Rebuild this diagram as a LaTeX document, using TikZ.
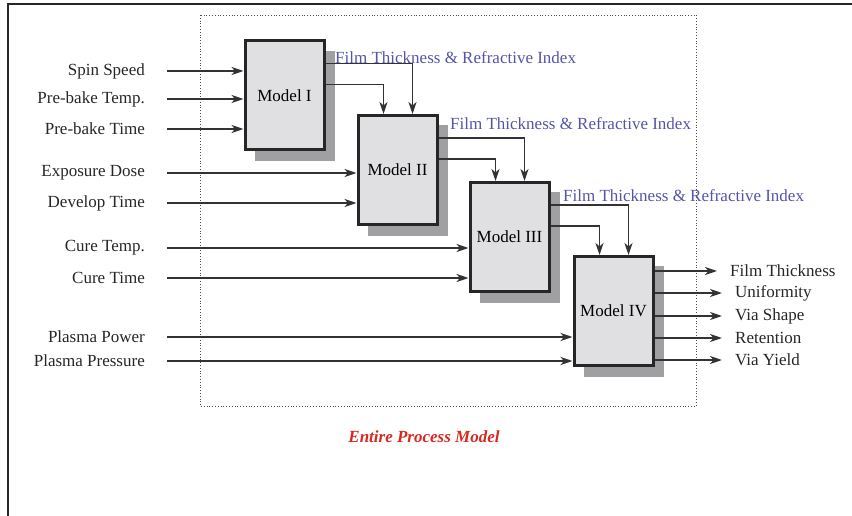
\documentclass[tikz,border=0pt]{standalone}
\usepackage{fontspec}
\setmainfont{Liberation Serif}
\usetikzlibrary{arrows.meta}
\definecolor{boxfill}{RGB}{224,224,226}
\definecolor{shadowgray}{RGB}{160,160,162}
\definecolor{ftblue}{RGB}{84,84,168}
\definecolor{modelred}{RGB}{214,42,32}
\tikzset{
  model/.style={draw=black!85, line width=3pt, fill=boxfill, minimum width=79pt,
    minimum height=109pt, inner sep=0pt, font=\fontsize{17}{20}\selectfont},
  shadowbox/.style={fill=shadowgray},
  inlabel/.style={anchor=east, inner sep=0pt, font=\fontsize{17}{20}\selectfont, text=black!85},
  outlabel/.style={anchor=west, inner sep=0pt, font=\fontsize{17}{20}\selectfont, text=black!85},
  ftlabel/.style={anchor=west, inner sep=0pt, font=\fontsize{17}{20}\selectfont, text=ftblue},
  arr/.style={line width=1.8pt, draw=black!80, -{Stealth[length=12pt,width=8pt,inset=3.5pt]}}
}
\begin{document}
\begin{tikzpicture}[x=1pt, y=-1pt]
\useasboundingbox (0,0) rectangle (852,516);

% Cadre
\draw[line width=2pt, black!85] (852,4.5) -- (8,4.5) -- (8,516);

% Modèle complet
\draw[dotted, line width=0.8pt, black!70] (200,15) rectangle (696,406);
\node[font=\fontsize{17}{20}\selectfont\bfseries\itshape, text=modelred] (entire) at (424,437) {Entire Process Model};

% Ombres
\fill[shadowbox] (255,51) rectangle (335,161);
\fill[shadowbox] (368,125) rectangle (448,236);
\fill[shadowbox] (480,192) rectangle (560,303);
\fill[shadowbox] (584,266) rectangle (664,377);

% Modèles
\node[model] (m1) at (284.5,95.5) {Model I};
\node[model] (m2) at (397.5,170) {Model II};
\node[model] (m3) at (509.5,237) {Model III};
\node[model] (m4) at (613.5,311) {Model IV};

% Entrées
\node[inlabel] (spin) at (145,71) {Spin Speed};
\node[inlabel] (pbtemp) at (145,99) {Pre-bake Temp.};
\node[inlabel] (pbtime) at (145,129) {Pre-bake Time};
\node[inlabel] (expo) at (145,173) {Exposure Dose};
\node[inlabel] (devel) at (145,203) {Develop Time};
\node[inlabel] (curetemp) at (145,248) {Cure Temp.};
\node[inlabel] (curetime) at (145,278) {Cure Time};
\node[inlabel] (ppower) at (145,337) {Plasma Power};
\node[inlabel] (ppress) at (145,361) {Plasma Pressure};

\foreach \lbl/\mdl in {spin/m1, pbtemp/m1, pbtime/m1, expo/m2, devel/m2,
    curetemp/m3, curetime/m3, ppower/m4, ppress/m4}
  \draw[arr] ([xshift=22pt]\lbl.east) -- (\lbl -| \mdl.west);

% Liaisons entre modèles
\node[ftlabel] (ft1) at (335,58) {Film Thickness \& Refractive Index};
\node[ftlabel] (ft2) at (450,124) {Film Thickness \& Refractive Index};
\node[ftlabel] (ft3) at (563,196) {Film Thickness \& Refractive Index};

\foreach \src/\dst in {m1/m2, m2/m3, m3/m4} {
  \draw[arr] ([yshift=-24pt]\src.north east) -| ([xshift=15pt]\dst.north);
  \draw[arr] ([yshift=-45pt]\src.north east) -| ([xshift=-14pt]\dst.north);
}

% Sorties
\node[outlabel] (thick) at (730,271) {Film Thickness};
\node[outlabel] (unif) at (735,293) {Uniformity};
\node[outlabel] (shape) at (735,316) {Via Shape};
\node[outlabel] (reten) at (735,338) {Retention};
\node[outlabel] (yield) at (735,360) {Via Yield};

\foreach \out in {thick, unif, shape, reten, yield}
  \draw[arr] (m4.east |- \out) -- ([xshift=-13pt]\out.west);

\end{tikzpicture}
\end{document}
